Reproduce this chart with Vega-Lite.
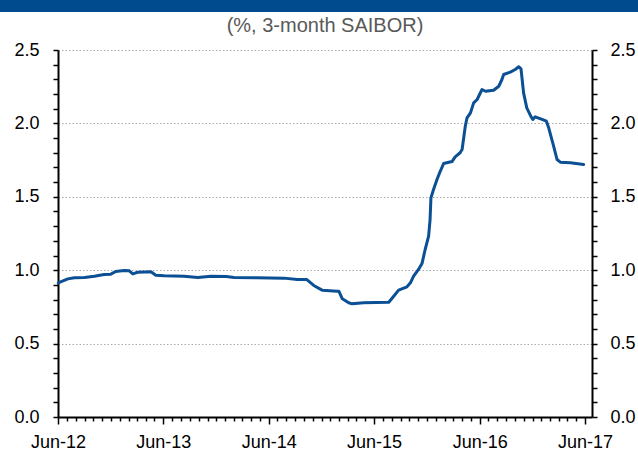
{
  "$schema": "https://vega.github.io/schema/vega-lite/v6.json",
  "padding": 0,
  "background": "white",
  "spacing": 4,
  "config": {"view": {"stroke": null}, "font": "Liberation Sans"},
  "vconcat": [
    {
      "width": 638,
      "height": 12,
      "data": {"values": [{}]},
      "mark": {"type": "rect", "color": "#004b8d"}
    },
    {
      "spacing": 0,
      "hconcat": [
        {
          "width": 1,
          "height": 1,
          "data": {"values": []},
          "mark": {"type": "point", "opacity": 0}
        },
        {
          "width": 534,
          "height": 367,
          "title": {
            "text": "(%, 3-month SAIBOR)",
            "font": "Liberation Sans",
            "fontSize": 20,
            "fontWeight": "normal",
            "color": "#595959",
            "anchor": "middle",
            "offset": 5
          },
          "data": {
            "values": [
              {"date": "2012-06-02", "rate": 0.914},
              {"date": "2012-07-05", "rate": 0.941},
              {"date": "2012-07-28", "rate": 0.948},
              {"date": "2012-09-01", "rate": 0.950},
              {"date": "2012-10-05", "rate": 0.959},
              {"date": "2012-11-08", "rate": 0.971},
              {"date": "2012-12-01", "rate": 0.973},
              {"date": "2012-12-18", "rate": 0.991},
              {"date": "2013-01-16", "rate": 0.998},
              {"date": "2013-02-03", "rate": 0.996},
              {"date": "2013-02-15", "rate": 0.975},
              {"date": "2013-03-04", "rate": 0.986},
              {"date": "2013-04-19", "rate": 0.989},
              {"date": "2013-05-06", "rate": 0.966},
              {"date": "2013-06-04", "rate": 0.962},
              {"date": "2013-08-12", "rate": 0.959},
              {"date": "2013-09-28", "rate": 0.950},
              {"date": "2013-11-13", "rate": 0.959},
              {"date": "2014-01-05", "rate": 0.957},
              {"date": "2014-02-01", "rate": 0.950},
              {"date": "2014-04-20", "rate": 0.948},
              {"date": "2014-07-24", "rate": 0.946},
              {"date": "2014-09-08", "rate": 0.937},
              {"date": "2014-10-10", "rate": 0.937},
              {"date": "2014-11-04", "rate": 0.896},
              {"date": "2014-12-03", "rate": 0.864},
              {"date": "2015-01-24", "rate": 0.857},
              {"date": "2015-01-30", "rate": 0.857},
              {"date": "2015-02-11", "rate": 0.805},
              {"date": "2015-03-05", "rate": 0.778},
              {"date": "2015-03-17", "rate": 0.771},
              {"date": "2015-04-26", "rate": 0.778},
              {"date": "2015-07-22", "rate": 0.782},
              {"date": "2015-08-08", "rate": 0.823},
              {"date": "2015-08-25", "rate": 0.864},
              {"date": "2015-09-23", "rate": 0.887},
              {"date": "2015-10-05", "rate": 0.914},
              {"date": "2015-10-16", "rate": 0.959},
              {"date": "2015-11-02", "rate": 1.005},
              {"date": "2015-11-14", "rate": 1.045},
              {"date": "2015-11-25", "rate": 1.141},
              {"date": "2015-12-07", "rate": 1.232},
              {"date": "2015-12-12", "rate": 1.345},
              {"date": "2015-12-15", "rate": 1.493},
              {"date": "2015-12-24", "rate": 1.550},
              {"date": "2016-01-05", "rate": 1.618},
              {"date": "2016-01-14", "rate": 1.663},
              {"date": "2016-01-28", "rate": 1.727},
              {"date": "2016-02-26", "rate": 1.740},
              {"date": "2016-03-08", "rate": 1.772},
              {"date": "2016-03-25", "rate": 1.800},
              {"date": "2016-04-01", "rate": 1.822},
              {"date": "2016-04-12", "rate": 1.981},
              {"date": "2016-04-18", "rate": 2.038},
              {"date": "2016-04-30", "rate": 2.072},
              {"date": "2016-05-11", "rate": 2.140},
              {"date": "2016-05-23", "rate": 2.163},
              {"date": "2016-06-09", "rate": 2.231},
              {"date": "2016-06-21", "rate": 2.219},
              {"date": "2016-07-19", "rate": 2.226},
              {"date": "2016-08-06", "rate": 2.253},
              {"date": "2016-08-17", "rate": 2.299},
              {"date": "2016-08-23", "rate": 2.333},
              {"date": "2016-09-15", "rate": 2.349},
              {"date": "2016-10-02", "rate": 2.367},
              {"date": "2016-10-14", "rate": 2.386},
              {"date": "2016-10-22", "rate": 2.372},
              {"date": "2016-10-31", "rate": 2.208},
              {"date": "2016-11-11", "rate": 2.106},
              {"date": "2016-11-25", "rate": 2.049},
              {"date": "2016-12-02", "rate": 2.027},
              {"date": "2016-12-10", "rate": 2.045},
              {"date": "2017-01-03", "rate": 2.027},
              {"date": "2017-01-18", "rate": 2.015},
              {"date": "2017-01-26", "rate": 1.970},
              {"date": "2017-02-12", "rate": 1.845},
              {"date": "2017-02-24", "rate": 1.754},
              {"date": "2017-03-07", "rate": 1.736},
              {"date": "2017-04-11", "rate": 1.732},
              {"date": "2017-05-27", "rate": 1.720}
            ]
          },
          "layer": [
            {
              "mark": {"type": "line", "color": "#0b4f94", "strokeWidth": 3, "strokeJoin": "round", "strokeCap": "round"},
              "encoding": {
                "x": {
                  "field": "date",
                  "type": "temporal",
                  "scale": {"type": "utc", "domain": ["2012-06-01", "2017-06-25"], "nice": false},
                  "axis": {
                    "orient": "bottom",
                    "title": null,
                    "tickCount": {"interval": "month", "step": 1},
                    "labelExpr": "utcmonth(datum.value) == 5 ? utcFormat(datum.value, '%b-%y') : ''",
                    "labelOverlap": false,
                    "labelFlush": false,
                    "labelBound": false,
                    "labelFont": "Liberation Sans",
                    "labelFontSize": 18,
                    "labelColor": "black",
                    "labelPadding": 9,
                    "grid": false,
                    "domainColor": "black",
                    "domainWidth": 2,
                    "tickColor": "black",
                    "tickWidth": 1.5,
                    "tickSize": {"condition": {"test": "utcmonth(datum.value) == 5", "value": 7}, "value": 4}
                  }
                },
                "y": {
                  "field": "rate",
                  "type": "quantitative",
                  "scale": {"domain": [0, 2.5], "nice": false, "zero": true},
                  "axis": {
                    "orient": "left",
                    "title": null,
                    "values": [0, 0.1, 0.2, 0.3, 0.4, 0.5, 0.6, 0.7, 0.8, 0.9, 1.0, 1.1, 1.2, 1.3, 1.4, 1.5, 1.6, 1.7, 1.8, 1.9, 2.0, 2.1, 2.2, 2.3, 2.4, 2.5],
                    "labelExpr": "abs(datum.value * 2 - round(datum.value * 2)) < 0.001 ? format(datum.value, '.1f') : ''",
                    "labelOverlap": false,
                    "labelFlush": false,
                    "labelBound": false,
                    "labelFont": "Liberation Sans",
                    "labelFontSize": 18,
                    "labelColor": "black",
                    "labelPadding": 14,
                    "minExtent": 57,
                    "grid": true,
                    "gridColor": "#aaaaaa",
                    "gridDash": [1.5, 2],
                    "gridWidth": 1,
                    "gridOpacity": {"condition": {"test": "datum.value > 0.01 && abs(datum.value * 2 - round(datum.value * 2)) < 0.001", "value": 1}, "value": 0},
                    "domainColor": "black",
                    "domainWidth": 2,
                    "tickColor": "black",
                    "tickWidth": 1.5,
                    "tickSize": 5
                  }
                }
              }
            },
            {
              "mark": {"type": "line", "opacity": 0},
              "encoding": {
                "x": {"field": "date", "type": "temporal"},
                "y": {
                  "field": "rate",
                  "type": "quantitative",
                  "axis": {
                    "orient": "right",
                    "title": null,
                    "values": [0, 0.1, 0.2, 0.3, 0.4, 0.5, 0.6, 0.7, 0.8, 0.9, 1.0, 1.1, 1.2, 1.3, 1.4, 1.5, 1.6, 1.7, 1.8, 1.9, 2.0, 2.1, 2.2, 2.3, 2.4, 2.5],
                    "labelExpr": "abs(datum.value * 2 - round(datum.value * 2)) < 0.001 ? format(datum.value, '.1f') : ''",
                    "labelOverlap": false,
                    "labelFlush": false,
                    "labelBound": false,
                    "labelFont": "Liberation Sans",
                    "labelFontSize": 18,
                    "labelColor": "black",
                    "labelPadding": 13,
                    "grid": false,
                    "domainColor": "black",
                    "domainWidth": 2,
                    "tickColor": "black",
                    "tickWidth": 1.5,
                    "tickSize": 5
                  }
                }
              }
            }
          ],
          "resolve": {"axis": {"y": "independent"}}
        }
      ]
    }
  ]
}
